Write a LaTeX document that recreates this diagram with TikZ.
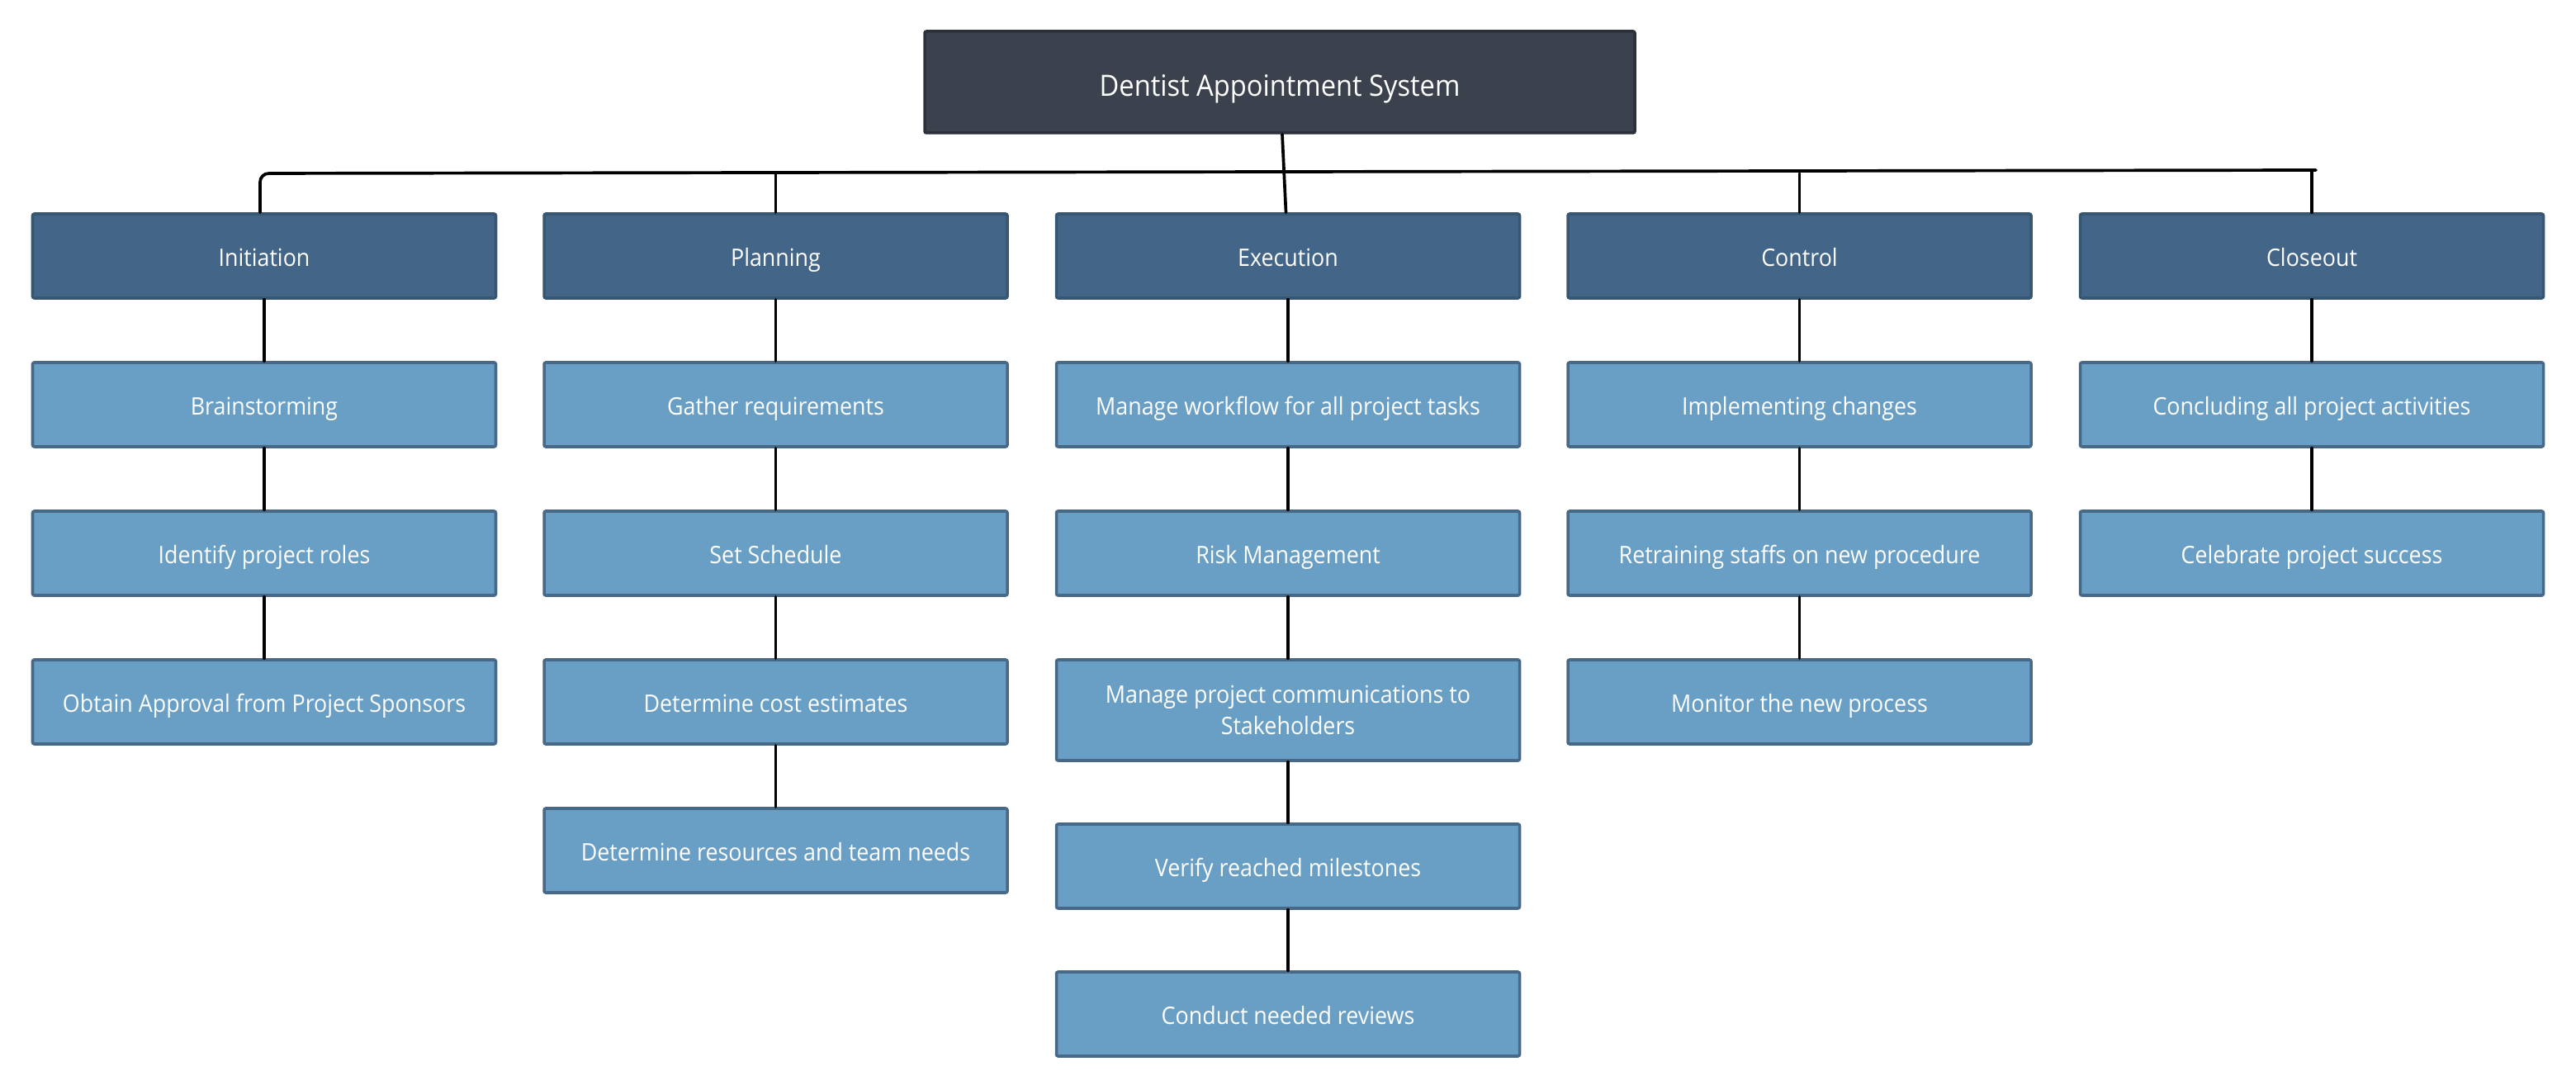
\documentclass[tikz,border=0pt]{standalone}
\usepackage{fontspec}
\setmainfont[FakeStretch=0.92]{Open Sans}
\definecolor{rootfill}{RGB}{59,65,77}
\definecolor{rootline}{RGB}{43,48,58}
\definecolor{phasefill}{RGB}{67,101,135}
\definecolor{phaseline}{RGB}{55,86,114}
\definecolor{taskfill}{RGB}{105,159,197}
\definecolor{taskline}{RGB}{72,104,136}
\begin{document}
\begin{tikzpicture}
      \tikzset{rootbox/.style={draw=rootline, fill=rootfill, line width=1pt, rounded corners=0.6pt, minimum width=8.6cm, minimum height=1.23cm, text=white, text height=2.1ex, text depth=0.3ex, font=\fontsize{10.1}{12}\selectfont},
               box/.style={draw=phaseline, fill=phasefill, line width=1pt, rounded corners=0.6pt, minimum width=5.61cm, minimum height=1.02cm, text=white, align=center, font=\fontsize{8.3}{10.6}\selectfont},
               phase/.style={box, text height=1.75ex, text depth=0.4ex},
               task/.style={phase, draw=taskline, fill=taskfill},
               bigtask/.style={box, draw=taskline, fill=taskfill, minimum height=1.22cm},
               link/.style={line width=1.05pt, line cap=round, black}}
      \useasboundingbox (0,0) rectangle (31.2,-13.2);
%% Root
      	\node[rootbox] (root) at (15.5,-0.995) {Dentist Appointment System};
%% Phases
      	\node[phase] (init) at (3.2,-3.1) {Initiation};
      	\node[phase] (plan) at (9.395,-3.1) {Planning};
      	\node[phase] (exec) at (15.6,-3.1) {Execution};
      	\node[phase] (ctrl) at (21.795,-3.1) {Control};
      	\node[phase] (close) at (28.0,-3.1) {Closeout};
%% Tasks
      	\node[task] (init1) at (3.2,-4.9) {Brainstorming};
      	\node[task] (init2) at (3.2,-6.7) {Identify project roles};
      	\node[task] (init3) at (3.2,-8.5) {Obtain Approval from Project Sponsors};
      	\node[task] (plan1) at (9.395,-4.9) {Gather requirements};
      	\node[task] (plan2) at (9.395,-6.7) {Set Schedule};
      	\node[task] (plan3) at (9.395,-8.5) {Determine cost estimates};
      	\node[task] (plan4) at (9.395,-10.3) {Determine resources and team needs};
      	\node[task] (exec1) at (15.6,-4.9) {Manage workflow for all project tasks};
      	\node[task] (exec2) at (15.6,-6.7) {Risk Management};
      	\node[bigtask] (exec3) at (15.6,-8.6) {Manage project communications to\\Stakeholders};
      	\node[task] (exec4) at (15.6,-10.49) {Verify reached milestones};
      	\node[task] (exec5) at (15.6,-12.28) {Conduct needed reviews};
      	\node[task] (ctrl1) at (21.795,-4.9) {Implementing changes};
      	\node[task] (ctrl2) at (21.795,-6.7) {Retraining staffs on new procedure};
      	\node[task] (ctrl3) at (21.795,-8.5) {Monitor the new process};
      	\node[task] (close1) at (28.0,-4.9) {Concluding all project activities};
      	\node[task] (close2) at (28.0,-6.7) {Celebrate project success};
%Edges
      	\coordinate (busL) at (3.15,-2.1);
      	\coordinate (busR) at (28.05,-2.06);
		\draw[link, rounded corners=3pt] (init.north -| busL) -- (busL) -- (busR);
		\path[link] (root) edge (exec);
		\draw[link] (plan.north) -- (plan.north |- busL);
		\draw[link] (ctrl.north) -- (ctrl.north |- busL);
		\draw[link] (close.north) -- (close.north |- busR);
		\path[link] (init) edge (init1) (init1) edge (init2) (init2) edge (init3);
		\path[link] (plan) edge (plan1) (plan1) edge (plan2) (plan2) edge (plan3) (plan3) edge (plan4);
		\path[link] (exec) edge (exec1) (exec1) edge (exec2) (exec2) edge (exec3) (exec3) edge (exec4) (exec4) edge (exec5);
		\path[link] (ctrl) edge (ctrl1) (ctrl1) edge (ctrl2) (ctrl2) edge (ctrl3);
		\path[link] (close) edge (close1) (close1) edge (close2);
	\end{tikzpicture}
\end{document}
